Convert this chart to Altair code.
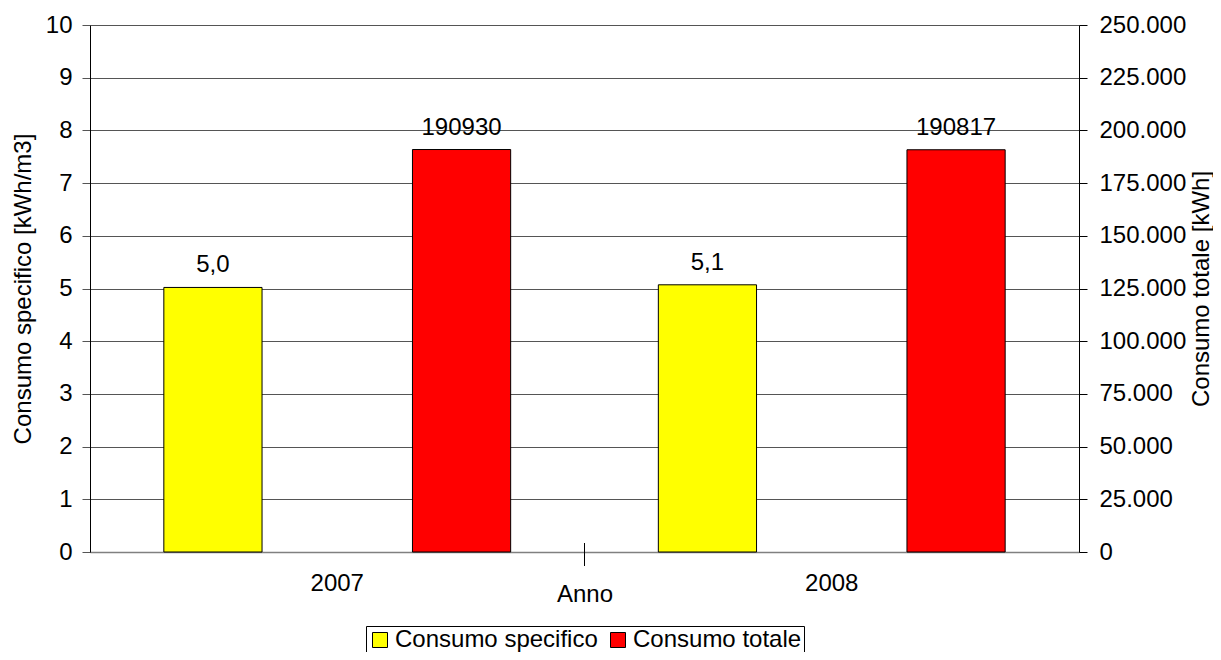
import altair as alt
import pandas as pd

# ---- data ----
anni = ["2007", "2008"]
serie = ["Consumo specifico", "Consumo totale"]
consumo_specifico = [5.02, 5.07]        # kWh/m3 (labels 5,0 / 5,1)
consumo_totale = [190930, 190817]       # kWh
colori = ["#FFFF00", "#FF0000"]
tick_sx = list(range(0, 11))
tick_dx = [0, 25000, 50000, 75000, 100000, 125000, 150000, 175000, 200000, 225000, 250000]
divisore = ["2008"]

FONT = "Liberation Sans"
FS = 24

df_spec = pd.DataFrame({"anno": anni, "valore": consumo_specifico, "serie": serie[0]})
df_tot = pd.DataFrame({"anno": anni, "valore": consumo_totale, "serie": serie[1]})
df_div = pd.DataFrame({"anno": divisore})

x_enc = alt.X("anno:N", sort=anni,
              scale=alt.Scale(paddingInner=0, paddingOuter=0),
              axis=alt.Axis(title="Anno", ticks=False, tickSize=0, labelPadding=19,
                            labelAngle=0, labelFontSize=FS, labelFont=FONT,
                            domainColor="#808080", domainWidth=1.5,
                            titleFontSize=FS, titleFont=FONT, titleFontWeight="normal",
                            titleY=49, titleBaseline="alphabetic", grid=False))
xo_enc = alt.XOffset("serie:N", sort=serie,
                     scale=alt.Scale(domain=serie, paddingInner=0.605, paddingOuter=0.297))
color_enc = alt.Color("serie:N",
                      scale=alt.Scale(domain=serie, range=colori),
                      legend=alt.Legend(orient="none", legendX=276, legendY=601,
                                        direction="horizontal", title=None,
                                        strokeColor="black", fillColor="white",
                                        padding=2, labelFontSize=FS, labelFont=FONT,
                                        labelLimit=0, symbolType="square",
                                        symbolSize=225, symbolStrokeColor="black",
                                        symbolStrokeWidth=1, columnPadding=8,
                                        labelOffset=3))

# left axis layer
bar_spec = alt.Chart(df_spec).mark_bar(stroke="black", strokeWidth=1).encode(
    x=x_enc, xOffset=xo_enc, color=color_enc,
    y=alt.Y("valore:Q", scale=alt.Scale(domain=[0, 10], nice=False),
            axis=alt.Axis(orient="left", values=tick_sx, title="Consumo specifico [kWh/m3]",
                          grid=True, gridColor="#555555", gridWidth=1,
                          domainColor="black", tickColor="#555555", tickSize=8,
                          labelPadding=10, labelFontSize=FS, labelFont=FONT,
                          titleFontSize=FS, titleFont=FONT, titleFontWeight="normal",
                          titleX=-60, titleY=263.5, titleAngle=270,
                          titleBaseline="alphabetic", titleAlign="center")),
)
txt_spec = alt.Chart(df_spec).transform_calculate(
    lab="replace(format(datum.valore, '.1f'), '.', ',')"
).mark_text(baseline="alphabetic", dy=-15, fontSize=FS, font=FONT, color="black").encode(
    x=alt.X("anno:N", sort=anni), xOffset=xo_enc,
    y=alt.Y("valore:Q"), text="lab:N",
)
left = alt.layer(bar_spec, txt_spec)

# right axis layer
bar_tot = alt.Chart(df_tot).mark_bar(stroke="black", strokeWidth=1).encode(
    x=x_enc, xOffset=xo_enc, color=color_enc,
    y=alt.Y("valore:Q", scale=alt.Scale(domain=[0, 250000], nice=False),
            axis=alt.Axis(orient="right", values=tick_dx, title="Consumo totale [kWh]",
                          grid=False, domainColor="black", tickColor="black", tickSize=8,
                          labelPadding=12, labelFontSize=FS, labelFont=FONT,
                          labelExpr="replace(format(datum.value, ','), ',', '.')",
                          titleFontSize=FS, titleFont=FONT, titleFontWeight="normal",
                          titleX=129, titleY=263.5, titleAngle=270,
                          titleBaseline="alphabetic", titleAlign="center")),
)
txt_tot = alt.Chart(df_tot).transform_calculate(
    lab="format(datum.valore, 'd')"
).mark_text(baseline="alphabetic", dy=-15, fontSize=FS, font=FONT, color="black").encode(
    x=alt.X("anno:N", sort=anni), xOffset=xo_enc,
    y=alt.Y("valore:Q"), text="lab:N",
)
right = alt.layer(bar_tot, txt_tot)

# category divider tick on the x axis
div = alt.Chart(df_div).mark_rule(color="black", strokeWidth=1).encode(
    x=alt.X("anno:N", sort=anni, bandPosition=0),
    y=alt.value(518), y2=alt.value(541),
)

chart = alt.layer(left, right, div).resolve_scale(y="independent").properties(
    width=989, height=527,
    padding={"left": 82, "top": 17, "right": 134, "bottom": 100},
    autosize=alt.AutoSizeParams(type="none"),
).configure_view(stroke=None).configure(font=FONT)

chart.save("out.html", embed_options={"renderer": "svg", "actions": False})
